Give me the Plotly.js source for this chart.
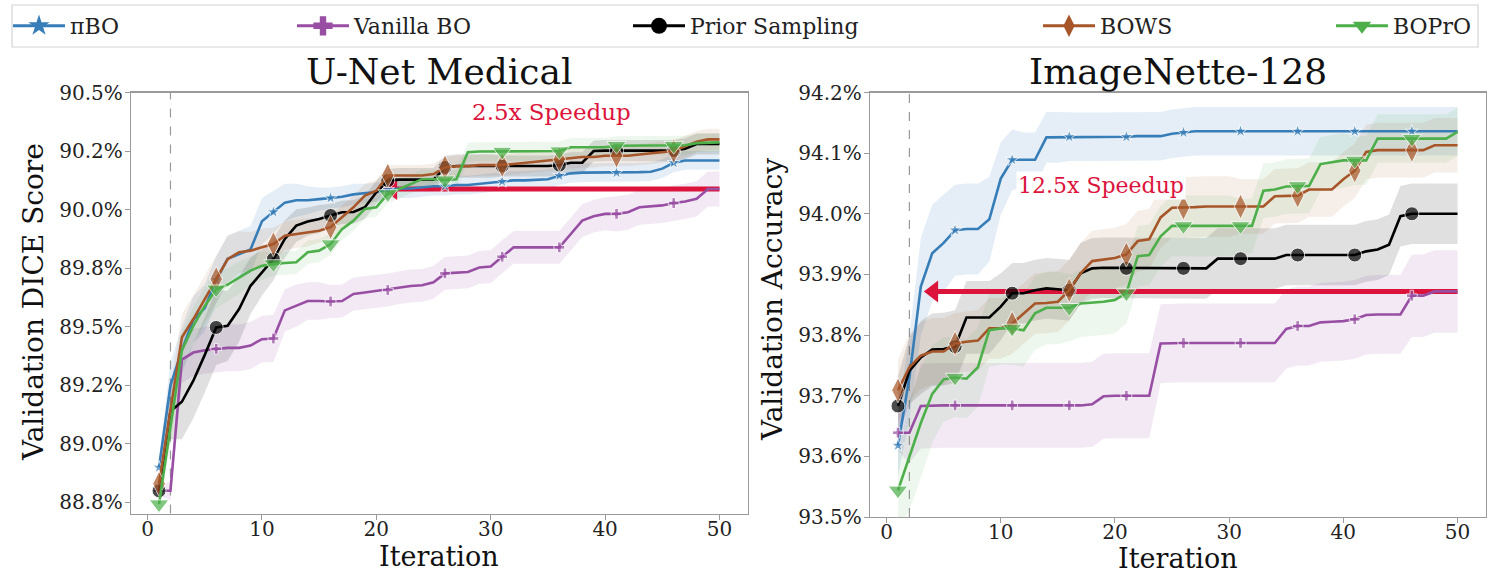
<!DOCTYPE html>
<html><head><meta charset="utf-8">
<script src="https://cdn.plot.ly/plotly-3.0.1.min.js"></script>
<style>html,body{margin:0;padding:0;background:#fff}#chart{width:1491px;height:574px}</style>
</head><body><div id="chart"></div>
<script>
const iterations = [1,2,3,4,5,6,7,8,9,10,11,12,13,14,15,16,17,18,19,20,21,22,23,24,25,26,27,28,29,30,31,32,33,34,35,36,37,38,39,40,41,42,43,44,45,46,47,48,49,50];
const methodNames = ['πBO', 'Vanilla BO', 'Prior Sampling', 'BOWS', 'BOPrO'];
const panelTitles = ['U-Net Medical', 'ImageNette-128'];
const yTitles = ['Validation DICE Score', 'Validation Accuracy'];
const xTitle = 'Iteration';

// U-Net Medical (validation DICE, %)
const unetPiBO = [88.90, 89.25, 89.40, 89.53, 89.58, 89.70, 89.79, 89.81, 89.83, 89.95,
 89.99, 90.03, 90.04, 90.04, 90.045, 90.05, 90.055, 90.065, 90.07, 90.075,
 90.085, 90.09, 90.09, 90.095, 90.10, 90.10, 90.105, 90.105, 90.11, 90.115,
 90.12, 90.125, 90.125, 90.127, 90.13, 90.145, 90.155, 90.158, 90.158, 90.158,
 90.158, 90.16, 90.16, 90.162, 90.175, 90.20, 90.21, 90.21, 90.21, 90.21];
const unetVanilla = [88.80, 88.80, 89.36, 89.39, 89.40, 89.406, 89.41, 89.41, 89.42, 89.447,
 89.45, 89.57, 89.59, 89.61, 89.61, 89.608, 89.61, 89.64, 89.646, 89.653,
 89.657, 89.667, 89.674, 89.677, 89.69, 89.728, 89.73, 89.734, 89.753, 89.757,
 89.799, 89.839, 89.839, 89.839, 89.839, 89.839, 89.896, 89.953, 89.972, 89.982,
 89.982, 89.989, 90.01, 90.015, 90.018, 90.028, 90.035, 90.046, 90.088, 90.088];
const unetPrior = [88.80, 89.14, 89.18, 89.27, 89.38, 89.497, 89.504, 89.576, 89.675, 89.732,
 89.789, 89.875, 89.932, 89.949, 89.96, 89.975, 89.989, 89.99, 90.01, 90.074,
 90.124, 90.128, 90.128, 90.128, 90.128, 90.18, 90.186, 90.186, 90.186, 90.186,
 90.186, 90.186, 90.186, 90.186, 90.186, 90.19, 90.20, 90.20, 90.25, 90.252,
 90.252, 90.252, 90.252, 90.252, 90.252, 90.252, 90.26, 90.28, 90.28, 90.28];
const unetBOWS = [88.83, 89.14, 89.455, 89.533, 89.618, 89.704, 89.789, 89.818, 89.825, 89.839,
 89.853, 89.889, 89.896, 89.903, 89.91, 89.925, 89.968, 90.01, 90.06, 90.081,
 90.146, 90.146, 90.146, 90.146, 90.152, 90.18, 90.185, 90.185, 90.19, 90.19,
 90.19, 90.195, 90.20, 90.205, 90.21, 90.215, 90.22, 90.225, 90.225, 90.23,
 90.23, 90.23, 90.235, 90.24, 90.245, 90.25, 90.27, 90.29, 90.30, 90.30];
const unetBOPrO = [88.743, 89.07, 89.40, 89.504, 89.589, 89.66, 89.68, 89.71, 89.74, 89.76,
 89.768, 89.772, 89.775, 89.818, 89.825, 89.853, 89.917, 89.953, 90.003, 90.01,
 90.067, 90.088, 90.11, 90.13, 90.13, 90.126, 90.13, 90.245, 90.248, 90.248,
 90.248, 90.248, 90.248, 90.248, 90.248, 90.25, 90.266, 90.266, 90.266, 90.266,
 90.273, 90.273, 90.273, 90.273, 90.273, 90.273, 90.275, 90.284, 90.287, 90.287];

const unetPiBOErr = [0.03,0.10,0.10,0.10,0.10,0.10,0.10,0.10,0.10,0.10,
 0.09,0.08,0.07,0.06,0.05,0.045,0.045,0.045,0.04,0.04,
 0.04,0.04,0.04,0.04,0.04,0.04,0.04,0.04,0.04,0.04,
 0.04,0.04,0.04,0.04,0.04,0.04,0.04,0.04,0.04,0.04,
 0.04,0.04,0.04,0.04,0.04,0.04,0.04,0.04,0.04,0.04];
const unetVanillaErr = [0.02,0.04,0.10,0.10,0.10,0.10,0.10,0.10,0.10,0.10,
 0.10,0.09,0.09,0.08,0.08,0.07,0.07,0.07,0.07,0.07,
 0.07,0.07,0.07,0.07,0.07,0.07,0.07,0.07,0.07,0.07,
 0.07,0.07,0.07,0.07,0.07,0.07,0.07,0.07,0.07,0.07,
 0.075,0.075,0.075,0.075,0.075,0.075,0.075,0.075,0.075,0.075];
const unetPriorErr = [0.03,0.12,0.16,0.16,0.16,0.16,0.15,0.14,0.12,0.10,
 0.09,0.08,0.07,0.06,0.06,0.05,0.05,0.05,0.05,0.05,
 0.05,0.05,0.05,0.05,0.05,0.05,0.05,0.05,0.05,0.05,
 0.045,0.045,0.045,0.045,0.045,0.045,0.045,0.045,0.045,0.045,
 0.045,0.045,0.045,0.045,0.045,0.045,0.045,0.045,0.045,0.045];
const unetBOWSErr = [0.03,0.10,0.10,0.10,0.10,0.10,0.10,0.09,0.08,0.08,
 0.07,0.06,0.06,0.06,0.05,0.05,0.05,0.05,0.05,0.045,
 0.045,0.045,0.045,0.045,0.045,0.045,0.045,0.045,0.045,0.045,
 0.045,0.045,0.045,0.045,0.045,0.045,0.045,0.045,0.045,0.045,
 0.045,0.045,0.045,0.045,0.045,0.045,0.045,0.045,0.045,0.045];
const unetBOPrOErr = [0.03,0.08,0.08,0.08,0.08,0.08,0.07,0.07,0.06,0.06,
 0.05,0.05,0.05,0.05,0.05,0.045,0.045,0.045,0.04,0.04,
 0.04,0.04,0.04,0.04,0.04,0.04,0.04,0.04,0.04,0.04,
 0.04,0.04,0.04,0.04,0.04,0.04,0.04,0.04,0.04,0.04,
 0.04,0.04,0.04,0.04,0.04,0.04,0.04,0.04,0.04,0.04];

// ImageNette-128 (validation accuracy, %)
const imgPiBO = [93.618, 93.73, 93.88, 93.935, 93.952, 93.973, 93.975, 93.975, 93.991, 94.058,
 94.089, 94.089, 94.089, 94.126, 94.126, 94.127, 94.127, 94.127, 94.127, 94.127,
 94.127, 94.128, 94.128, 94.128, 94.132, 94.134, 94.136, 94.136, 94.136, 94.136,
 94.136, 94.136, 94.136, 94.136, 94.136, 94.136, 94.136, 94.136, 94.136, 94.136,
 94.136, 94.136, 94.136, 94.136, 94.136, 94.136, 94.136, 94.136, 94.136, 94.136];
const imgVanilla = [93.639, 93.639, 93.683, 93.684, 93.684, 93.684, 93.684, 93.684, 93.684, 93.684,
 93.684, 93.684, 93.684, 93.684, 93.684, 93.684, 93.684, 93.686, 93.699, 93.70,
 93.70, 93.70, 93.70, 93.786, 93.787, 93.787, 93.787, 93.787, 93.787, 93.787,
 93.787, 93.787, 93.787, 93.787, 93.81, 93.815, 93.815, 93.821, 93.822, 93.823,
 93.826, 93.833, 93.834, 93.834, 93.834, 93.865, 93.865, 93.872, 93.872, 93.872];
const imgPrior = [93.683, 93.741, 93.763, 93.776, 93.777, 93.781, 93.829, 93.829, 93.829, 93.847,
 93.869, 93.869, 93.874, 93.877, 93.876, 93.874, 93.902, 93.91, 93.911, 93.911,
 93.91, 93.91, 93.91, 93.91, 93.91, 93.91, 93.91, 93.91, 93.926, 93.926,
 93.926, 93.926, 93.926, 93.926, 93.932, 93.932, 93.932, 93.932, 93.932, 93.932,
 93.932, 93.938, 93.941, 93.949, 93.996, 94.0, 94.0, 94.0, 94.0, 94.0];
const imgBOWS = [93.709, 93.747, 93.766, 93.773, 93.773, 93.786, 93.789, 93.791, 93.811, 93.811,
 93.819, 93.836, 93.852, 93.853, 93.855, 93.874, 93.902, 93.922, 93.924, 93.927,
 93.933, 93.955, 93.958, 93.994, 94.01, 94.01, 94.011, 94.012, 94.012, 94.012,
 94.012, 94.012, 94.012, 94.029, 94.029, 94.03, 94.04, 94.04, 94.04, 94.057,
 94.071, 94.102, 94.105, 94.105, 94.105, 94.105, 94.105, 94.113, 94.113, 94.113];
const imgBOPrO = [93.544, 93.60, 93.655, 93.703, 93.727, 93.73, 93.728, 93.747, 93.808, 93.811,
 93.811, 93.808, 93.836, 93.845, 93.845, 93.845, 93.852, 93.853, 93.855, 93.858,
 93.869, 93.93, 93.932, 93.963, 93.98, 93.98, 93.98, 93.98, 93.98, 93.98,
 93.98, 93.98, 94.038, 94.04, 94.045, 94.046, 94.046, 94.082, 94.085, 94.088,
 94.088, 94.088, 94.124, 94.124, 94.124, 94.124, 94.124, 94.124, 94.124, 94.135];

const imgPiBOErr = [0.05,0.07,0.08,0.08,0.08,0.075,0.075,0.075,0.07,0.06,
 0.05,0.045,0.045,0.042,0.042,0.04,0.04,0.04,0.04,0.04,
 0.04,0.04,0.04,0.04,0.04,0.04,0.04,0.04,0.04,0.04,
 0.04,0.04,0.04,0.04,0.04,0.04,0.04,0.04,0.04,0.04,
 0.04,0.04,0.04,0.04,0.04,0.04,0.04,0.04,0.04,0.04];
const imgVanillaErr = [0.03,0.05,0.07,0.07,0.07,0.07,0.07,0.07,0.07,0.07,
 0.07,0.07,0.07,0.07,0.07,0.07,0.07,0.07,0.07,0.07,
 0.07,0.07,0.07,0.065,0.065,0.065,0.065,0.065,0.065,0.065,
 0.065,0.065,0.065,0.065,0.065,0.065,0.065,0.065,0.065,0.065,
 0.065,0.065,0.065,0.065,0.065,0.068,0.068,0.068,0.068,0.068];
const imgPriorErr = [0.05,0.055,0.06,0.06,0.06,0.06,0.06,0.06,0.06,0.055,
 0.05,0.05,0.05,0.05,0.05,0.05,0.05,0.05,0.05,0.05,
 0.05,0.05,0.05,0.05,0.05,0.05,0.05,0.05,0.05,0.05,
 0.05,0.05,0.05,0.05,0.05,0.05,0.05,0.05,0.05,0.05,
 0.05,0.05,0.05,0.05,0.05,0.05,0.05,0.05,0.05,0.05];
const imgBOWSErr = [0.05,0.055,0.055,0.055,0.055,0.05,0.05,0.05,0.05,0.05,
 0.05,0.05,0.05,0.05,0.05,0.05,0.05,0.05,0.05,0.05,
 0.05,0.05,0.05,0.05,0.05,0.05,0.05,0.05,0.05,0.05,
 0.045,0.045,0.045,0.045,0.045,0.045,0.045,0.045,0.045,0.045,
 0.045,0.045,0.045,0.045,0.045,0.045,0.045,0.045,0.045,0.045];
const imgBOPrOErr = [0.06,0.09,0.09,0.08,0.07,0.065,0.065,0.065,0.06,0.06,
 0.06,0.06,0.06,0.06,0.06,0.055,0.055,0.055,0.055,0.055,
 0.05,0.05,0.05,0.05,0.05,0.05,0.05,0.05,0.05,0.05,
 0.045,0.045,0.045,0.045,0.045,0.045,0.045,0.045,0.045,0.045,
 0.04,0.04,0.04,0.04,0.04,0.04,0.04,0.04,0.04,0.04];

// speedup annotations
const speedupLabels = ['2.5x Speedup', '12.5x Speedup'];
const speedupLevel = [90.088, 93.872];     // matched score
const speedupFrom = [21.4, 4.1];           // iteration where πBO reaches it
const speedupTo = [50, 50];
const speedupTextPos = [[35.3, 90.415], [18.8, 94.046]];
const initDesignEnd = 2;

const yTickValsUnet = [88.75, 89.0, 89.25, 89.5, 89.75, 90.0, 90.25, 90.5];
const yTickTextUnet = ['88.8%', '89.0%', '89.2%', '89.5%', '89.8%', '90.0%', '90.2%', '90.5%'];
const yTickValsImg = [93.5, 93.6, 93.7, 93.8, 93.9, 94.0, 94.1, 94.2];
const yTickTextImg = ['93.5%', '93.6%', '93.7%', '93.8%', '93.9%', '94.0%', '94.1%', '94.2%'];
const xTickVals = [0, 10, 20, 30, 40, 50];

// ---- styling ----
const W = 1491, H = 574;
const FONT = 'DejaVu Serif';
const colors = ['#377eb8', '#984ea3', '#000000', '#a65628', '#4daf4a'];
const fills = ['rgba(55,126,184,0.13)', 'rgba(152,78,163,0.12)', 'rgba(0,0,0,0.12)', 'rgba(166,86,40,0.10)', 'rgba(77,175,74,0.10)'];
const symbols = ['star', 'cross', 'circle', 'diamond-tall', 'triangle-down'];
const plotSizes = [10, 9, 14, 18, 17];
const legendSizes = [16, 16, 16, 16, 16];
const red = '#dc143c';

const px = v => v / W;
const py = v => 1 - v / H;

const panels = [
  {xa: 'x', ya: 'y', series: [unetPiBO, unetVanilla, unetPrior, unetBOWS, unetBOPrO],
   errs: [unetPiBOErr, unetVanillaErr, unetPriorErr, unetBOWSErr, unetBOPrOErr]},
  {xa: 'x2', ya: 'y2', series: [imgPiBO, imgVanilla, imgPrior, imgBOWS, imgBOPrO],
   errs: [imgPiBOErr, imgVanillaErr, imgPriorErr, imgBOWSErr, imgBOPrOErr]}
];

const traces = [];
panels.forEach((p, pi) => {
  p.series.forEach((s, k) => {
    const lo = s.map((v, i) => v - p.errs[k][i]);
    const hi = s.map((v, i) => v + p.errs[k][i]);
    traces.push({x: iterations, y: lo, xaxis: p.xa, yaxis: p.ya, mode: 'lines', line: {width: 0, color: fills[k]},
      showlegend: false, hoverinfo: 'skip'});
    traces.push({x: iterations, y: hi, xaxis: p.xa, yaxis: p.ya, mode: 'lines', line: {width: 0, color: fills[k]},
      fill: 'tonexty', fillcolor: fills[k], showlegend: false, hoverinfo: 'skip'});
  });
  traces.push({x: [speedupFrom[pi], speedupTo[pi]], y: [speedupLevel[pi], speedupLevel[pi]], xaxis: p.xa, yaxis: p.ya,
    mode: 'lines', line: {color: red, width: 5}, showlegend: false, hoverinfo: 'skip'});
  traces.push({x: [speedupFrom[pi]], y: [speedupLevel[pi]], xaxis: p.xa, yaxis: p.ya,
    mode: 'markers', marker: {symbol: 'triangle-left', size: 19, color: red}, showlegend: false, hoverinfo: 'skip'});
  p.series.forEach((s, k) => {
    traces.push({x: iterations, y: s, xaxis: p.xa, yaxis: p.ya, mode: 'lines+markers', name: methodNames[k],
      line: {color: colors[k], width: 2.6},
      marker: {symbol: symbols[k], color: colors[k], size: iterations.map(i => (i - 1) % 5 === 0 ? plotSizes[k] : 0)},
      showlegend: false});
  });
});

const legendIds = ['legend', 'legend2', 'legend3', 'legend4', 'legend5'];
methodNames.forEach((n, k) => {
  traces.push({x: [null], y: [null], xaxis: 'x', yaxis: 'y', mode: 'lines+markers', name: n, legend: legendIds[k],
    line: {color: colors[k], width: 3}, marker: {symbol: symbols[k], color: colors[k], size: legendSizes[k]}});
});

const legendCenters = [40, 324, 660, 1070, 1363];
const axisFont = {family: FONT, size: 20, color: '#222'};
const baseAxis = {showline: true, mirror: true, linecolor: '#9a9a9a', linewidth: 1.2, ticks: 'outside', ticklen: 5,
  tickcolor: '#9a9a9a', showgrid: false, zeroline: false, tickfont: axisFont, automargin: false, fixedrange: true};
const xAxisExtra = {ticklabelstandoff: -8};
const yAxisExtra = {ticklabelstandoff: -2};

const ann = (text, x, y, size, extra) => Object.assign({text: text, xref: 'paper', yref: 'paper', x: px(x), y: py(y),
  xanchor: 'center', yanchor: 'middle', showarrow: false, font: {family: FONT, size: size, color: '#111'}}, extra || {});

const layout = {
  width: W, height: H, margin: {l: 0, r: 0, t: 0, b: 0}, paper_bgcolor: '#fff', plot_bgcolor: '#fff',
  font: {family: FONT, color: '#222'},
  xaxis: Object.assign({}, baseAxis, xAxisExtra, {domain: [px(131), px(747.5)], range: [-1.45, 52.45], tickvals: xTickVals, anchor: 'y'}),
  yaxis: Object.assign({}, baseAxis, yAxisExtra, {domain: [py(513.5), py(92.5)], range: [88.703, 90.5], tickvals: yTickValsUnet, ticktext: yTickTextUnet, anchor: 'x'}),
  xaxis2: Object.assign({}, baseAxis, xAxisExtra, {domain: [px(870), px(1485.5)], range: [-1.45, 52.45], tickvals: xTickVals, anchor: 'y2'}),
  yaxis2: Object.assign({}, baseAxis, yAxisExtra, {domain: [py(517), py(92.5)], range: [93.5, 94.2], tickvals: yTickValsImg, ticktext: yTickTextImg, anchor: 'x2'}),
  shapes: [
    {type: 'line', xref: 'x', yref: 'y domain', x0: initDesignEnd, x1: initDesignEnd, y0: 0, y1: 1, layer: 'below', line: {color: '#999', width: 1.2, dash: 'dash'}},
    {type: 'line', xref: 'x2', yref: 'y2 domain', x0: initDesignEnd, x1: initDesignEnd, y0: 0, y1: 1, layer: 'below', line: {color: '#999', width: 1.2, dash: 'dash'}},
    {type: 'rect', xref: 'paper', yref: 'paper', x0: px(12), x1: px(1478), y0: py(47), y1: py(5), line: {color: '#d4d4d4', width: 1.2}, fillcolor: 'rgba(255,255,255,0)', layer: 'below'}
  ],
  annotations: [
    ann(panelTitles[0], 439, 72, 36),
    ann(panelTitles[1], 1177.5, 72, 36),
    ann(yTitles[0], 33, 302, 28, {textangle: -90}),
    ann(yTitles[1], 772, 300, 28, {textangle: -90}),
    ann(xTitle, 439, 556, 27),
    ann(xTitle, 1177.5, 558, 27),
    {text: speedupLabels[0], xref: 'x', yref: 'y', x: speedupTextPos[0][0], y: speedupTextPos[0][1], xanchor: 'center', yanchor: 'middle', showarrow: false, font: {family: FONT, size: 23, color: red}},
    {text: speedupLabels[1], xref: 'x2', yref: 'y2', x: speedupTextPos[1][0], y: speedupTextPos[1][1], xanchor: 'center', yanchor: 'middle', showarrow: false, bgcolor: '#fff', font: {family: FONT, size: 22, color: red}}
  ],
  showlegend: true
};
legendIds.forEach((id, k) => {
  layout[id] = {x: px(legendCenters[k] - 32), xanchor: 'left', y: py(26), yanchor: 'middle', orientation: 'h',
    bgcolor: 'rgba(0,0,0,0)', borderwidth: 0, font: {family: FONT, size: 22, color: '#222'}, itemwidth: 52};
});

Plotly.newPlot('chart', traces, layout, {staticPlot: true, displayModeBar: false});
</script></body></html>
